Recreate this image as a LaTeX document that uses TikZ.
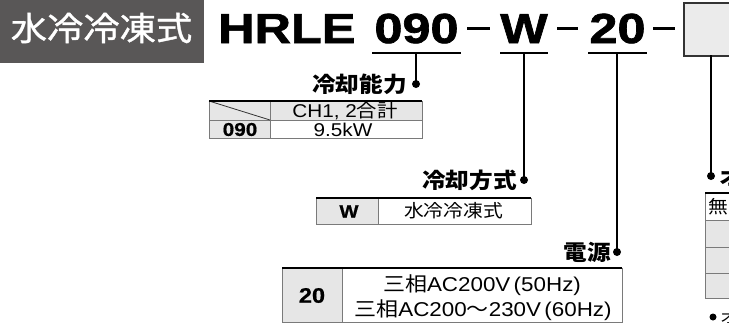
\documentclass[tikz,border=0pt]{standalone}
\usepackage{fontspec}
\setmainfont{Liberation Sans}[FakeStretch=1.12, BoldFeatures={FakeBold=0.8}]
\newfontfamily\codefont{Liberation Sans}[FakeStretch=1.2, BoldFeatures={FakeBold=1.6}]
\newfontfamily\jp{Noto Sans CJK JP}[FakeStretch=1.1]
\newfontfamily\jpbadge{Noto Sans CJK JP}[FakeStretch=1.1, FakeBold=1.2]
\definecolor{badgegray}{HTML}{595757}
\definecolor{tblgray}{HTML}{E6E6E6}
\definecolor{boxgray}{HTML}{EBEBEB}
\definecolor{gridgray}{HTML}{7A7A7A}
\tikzset{
  txt/.style={inner sep=0pt, text=black},
  code/.style={txt, font=\codefont\fontsize{42}{42}\selectfont\bfseries},
  lbl/.style={txt, anchor=east, font=\jp\bfseries\fontsize{21.5}{22}\selectfont},
  cell/.style={txt, font=\fontsize{18.5}{20}\selectfont},
  cellb/.style={txt, font=\fontsize{18.5}{20}\selectfont\bfseries},
  dotmark/.style={circle, fill=black, inner sep=0pt, minimum size=8pt},
  conn/.style={line width=1.6pt, black},
  uline/.style={line width=1.6pt, black},
  dashline/.style={line width=3pt, black},
  grid/.style={line width=0.8pt, gridgray},
  topline/.style={line width=1.8pt, black},
}
\begin{document}
\begin{tikzpicture}[x=1pt,y=-1pt]
\useasboundingbox (0,0) rectangle (729,322);
\clip (0,0) rectangle (729,322);
% badge
\node (badge) [fill=badgegray, minimum width=204pt, minimum height=63pt, anchor=north west, inner sep=0pt] at (0,0) {};
\node (badgetxt) [inner sep=0pt, text=white, font=\jpbadge\fontsize{33}{33}\selectfont] at (101.5,28) {水冷冷凍式};
% model code
\node (hrle) [code, anchor=base west] at (218,43) {HRLE};
\node (c090) [code, anchor=base] at (416.5,43) {090};
\node (cW) [code, anchor=base] at (524,43) {W};
\node (c20) [code, anchor=base] at (617.5,43) {20};
\draw[uline] (372,53) -- (461,53);
\draw[uline] (500,53) -- (548,53);
\draw[uline] (588,53) -- (647,53);
\draw[dashline] (467,28) -- (490,28);
\draw[dashline] (557,28) -- (578,28);
\draw[dashline] (653,28) -- (675,28);
\node (optbox) [draw=black!80, line width=1.5pt, fill=boxgray, anchor=north west, minimum width=70pt, minimum height=53pt, inner sep=0pt] at (683,2) {};
% connector anchors
\coordinate (u090) at (416,53);
\coordinate (uW) at (524,53);
\coordinate (u20) at (617,53);
\coordinate (ubox) at (711,55);
\node (d090) [dotmark] at (416,84) {};
\node (dW) [dotmark] at (524,180) {};
\node (d20) [dotmark] at (617,252) {};
\node (dbox) [dotmark] at (711,176) {};
\draw[conn] (u090) -- (d090.center);
\draw[conn] (uW) -- (dW.center);
\draw[conn] (u20) -- (d20.center);
\draw[conn] (ubox) -- (dbox.center);
% labels
\node (lcap) [lbl] at (407,84) {冷却能力};
\node (lcool) [lbl] at (517,180) {冷却方式};
\node (lpow) [lbl] at (611,252) {電源};
\node (lopt) [lbl, anchor=west] at (719,177) {オプション};
% table 1
\fill[tblgray] (209,101) rectangle (422,120);
\fill[tblgray] (209,120) rectangle (270,138);
\draw[grid] (209,101) rectangle (422,138);
\draw[grid] (209,120) -- (422,120);
\draw[grid] (270,101) -- (270,138);
\draw[line width=0.8pt, black!80] (209,101) -- (270,120);
\draw[topline] (209,101) -- (422,101);
\node (t1h) [cell] at (345,110.5) {CH1, 2{\jp 合計}};
\node (t1a) [cellb] at (240,129.5) {090};
\node (t1b) [cell] at (343,129.5) {9.5kW};
% table 2
\fill[tblgray] (316,198) rectangle (378,224);
\draw[grid] (316,198) rectangle (531,224);
\draw[grid] (378,198) -- (378,224);
\draw[topline] (316,198) -- (531,198);
\node (t2a) [cellb, font=\fontsize{18}{20}\selectfont\bfseries] at (349,211.5) {W};
\node (t2b) [cell, font=\jp\fontsize{18}{20}\selectfont] at (453.5,211) {水冷冷凍式};
% table 3
\fill[tblgray] (282,268) rectangle (342,322);
\draw[grid] (282,268) rectangle (622,322);
\draw[grid] (342,268) -- (342,322);
\draw[topline] (282,268) -- (622,268);
\node (t3a) [cellb, font=\fontsize{21}{22}\selectfont\bfseries] at (312,295.5) {20};
\node (t3b) [cell, font=\fontsize{20}{22}\selectfont] at (482,285) {{\jp 三相}AC200V\,(50Hz)};
\node (t3c) [cell, font=\fontsize{20}{22}\selectfont] at (483,310) {{\jp 三相}AC200{\jp 〜}230V\,(60Hz)};
% right table
\fill[tblgray] (705,220) rectangle (760,298);
\draw[grid] (705,193) rectangle (760,298);
\draw[grid] (705,220) -- (760,220);
\draw[grid] (705,247) -- (760,247);
\draw[grid] (705,273) -- (760,273);
\draw[topline] (705,193) -- (760,193);
\node (t4a) [cell, anchor=west, font=\jp\fontsize{18}{20}\selectfont] at (708,206.5) {無};
% note
\node (ndot) [dotmark, minimum size=7pt] at (713,317) {};
\node (ntxt) [cell, anchor=west, font=\jp\fontsize{16}{17}\selectfont] at (720,317) {オ};
\end{tikzpicture}
\end{document}
